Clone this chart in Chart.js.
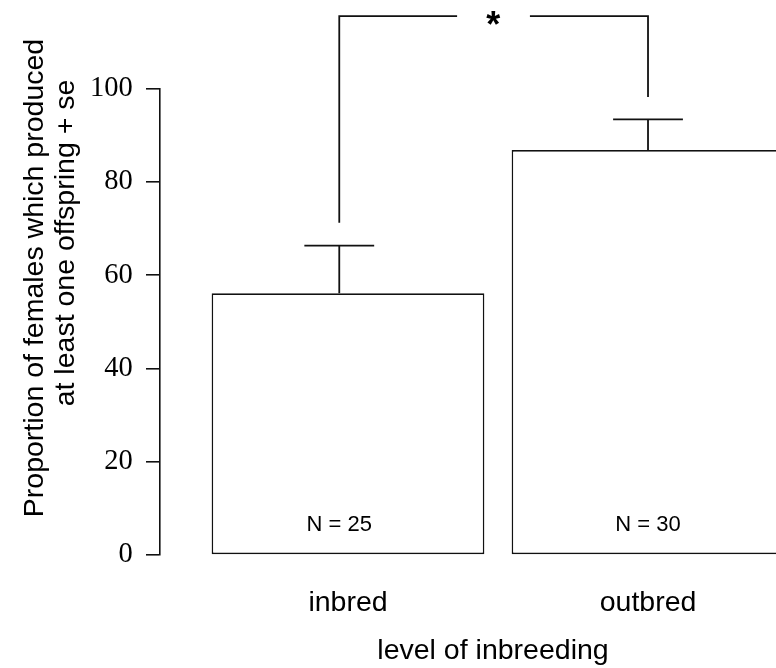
<!DOCTYPE html>
<html>
<head>
<meta charset="utf-8">
<script src="https://cdn.jsdelivr.net/npm/chart.js@4"></script>
<style>
  html, body { margin: 0; padding: 0; background: #fff; overflow: hidden; }
  #wrap { width: 826px; height: 668px; }
</style>
</head>
<body>
<div id="wrap"><canvas id="chart" width="826" height="668"></canvas></div>
<script>
// values
const categories = ['inbred', 'outbred'];
const proportions = [56.1, 86.8];      // bar heights (%)
const seUpper = [66.3, 93.4];          // mean + se
const sampleSizes = [25, 30];
const markerX = [0.568, 1.7];          // where whiskers / N labels sit (R barplot units)
const bracketFoot = [71.2, 98.2];      // lower ends of the significance bracket
const bracketTop = 115.5;
const starLabel = '*';

// R barplot style: width 1, space 0.1 -> centres at 0.6, 1.7
const barCenters = categories.map((c, i) => 0.6 + 1.1 * i);

const ink = '#111';
const sans = '"Liberation Sans", Arial, sans-serif';
const capHalf = 0.128;

function whisker(i) {
    return [
        { x: markerX[i], y: proportions[i] },
        { x: markerX[i], y: seUpper[i] },
        { x: markerX[i] - capHalf, y: seUpper[i] },
        { x: markerX[i] + capHalf, y: seUpper[i] }
    ];
}

const bracket = [
    { x: markerX[0], y: bracketFoot[0] },
    { x: markerX[0], y: bracketTop },
    { x: 1.0, y: bracketTop },
    { x: 1.0, y: null },
    { x: 1.267, y: bracketTop },
    { x: markerX[1], y: bracketTop },
    { x: markerX[1], y: bracketFoot[1] }
];

// text the axes cannot place: y title lines, N labels and the star
const annotations = {
    id: 'annotations',
    afterDraw(chart) {
        const ctx = chart.ctx;
        const xs = chart.scales.x, ys = chart.scales.y;
        ctx.save();
        ctx.fillStyle = '#000';
        ctx.textAlign = 'center';

        ctx.font = '22px ' + sans;
        ctx.textBaseline = 'alphabetic';
        sampleSizes.forEach((n, i) => {
            ctx.fillText('N = ' + n, xs.getPixelForValue(markerX[i]), ys.getPixelForValue(5.2));
        });

        ctx.font = 'bold 36px ' + sans;
        ctx.fillText(starLabel, xs.getPixelForValue(1.133), ys.getPixelForValue(bracketTop) + 20.5);

        ctx.font = '28.5px ' + sans;
        ctx.textBaseline = 'middle';
        [['Proportion of females which produced', 35, 278],
         ['at least one offspring + se', 66, 243]].forEach(([t, x, y]) => {
            ctx.save();
            ctx.translate(x, y);
            ctx.rotate(-Math.PI / 2);
            ctx.fillText(t, 0, 0);
            ctx.restore();
        });
        ctx.restore();
    }
};

new Chart(document.getElementById('chart'), {
    type: 'bar',
    data: {
        datasets: [
            {
                data: categories.map((c, i) => ({ x: barCenters[i], y: proportions[i] })),
                backgroundColor: '#fff',
                borderColor: ink,
                borderWidth: 1.6,
                borderSkipped: false,
                barPercentage: 1,
                categoryPercentage: 1 / 1.1
            },
            {
                type: 'line', data: whisker(0), borderColor: ink, borderWidth: 1.8,
                pointRadius: 0, clip: false
            },
            {
                type: 'line', data: whisker(1), borderColor: ink, borderWidth: 1.8,
                pointRadius: 0, clip: false
            },
            {
                type: 'line', data: bracket, borderColor: ink, borderWidth: 1.8,
                pointRadius: 0, clip: false, spanGaps: false
            }
        ]
    },
    options: {
        responsive: false,
        animation: false,
        layout: { padding: { top: 88.5, left: 0, right: 0, bottom: 0 } },
        plugins: { legend: { display: false }, tooltip: { enabled: false } },
        scales: {
            x: {
                type: 'linear',
                offset: false,
                min: -0.0893,
                max: 2.3526,
                grid: { display: false },
                border: { display: false },
                afterBuildTicks: scale => { scale.ticks = barCenters.map(v => ({ value: v })); },
                afterFit: scale => { scale.height = 113; },
                ticks: {
                    autoSkip: false,
                    maxRotation: 0,
                    padding: 23,
                    color: '#000',
                    font: { family: sans, size: 28.5 },
                    callback: (v, i) => categories[i]
                },
                title: {
                    display: true,
                    text: 'level of inbreeding',
                    color: '#000',
                    font: { family: sans, size: 28.5 },
                    padding: { top: 0, bottom: 0 }
                }
            },
            y: {
                min: 0,
                max: 100,
                afterFit: scale => { scale.width = 160; },
                grid: {
                    drawOnChartArea: false,
                    drawTicks: true,
                    tickLength: 14,
                    color: ink,
                    lineWidth: 1.6
                },
                border: { display: true, color: ink, width: 1.6 },
                ticks: {
                    stepSize: 20,
                    padding: 13.3,
                    color: '#000',
                    font: { family: '"Liberation Serif", "Times New Roman", serif', size: 28.5 }
                }
            }
        }
    },
    plugins: [annotations]
});
</script>
</body>
</html>
